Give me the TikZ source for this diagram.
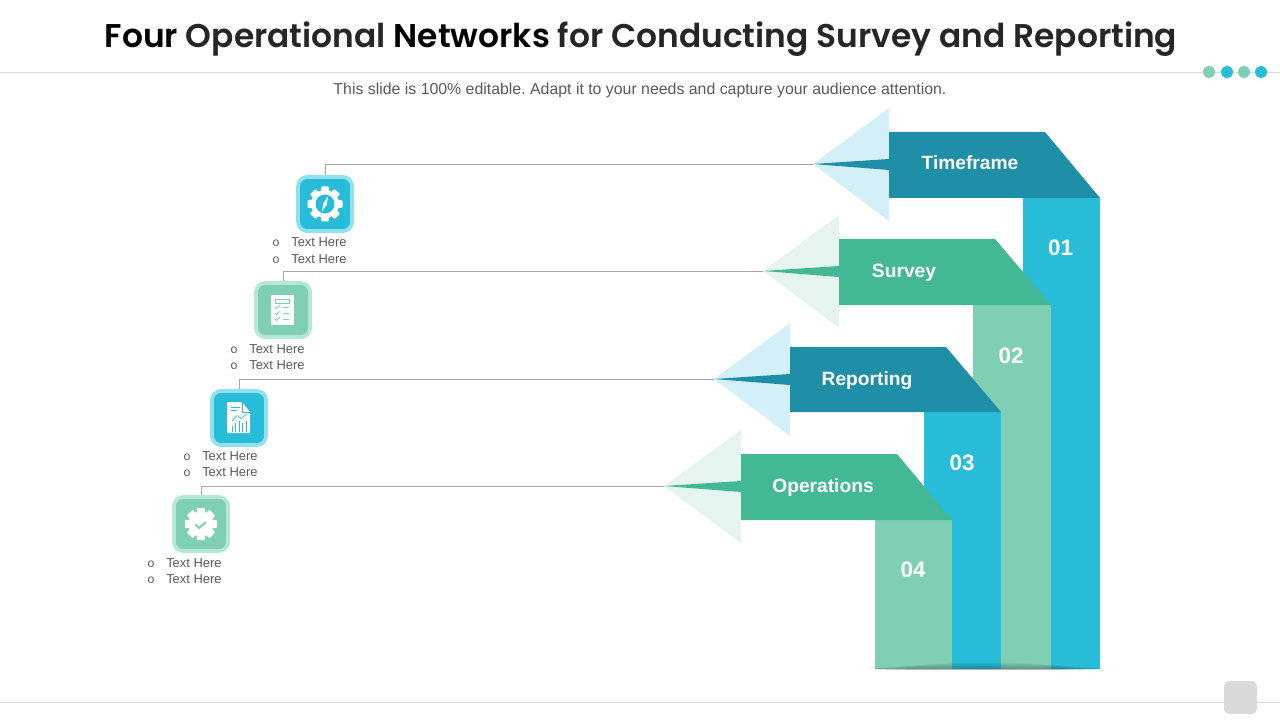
\documentclass[tikz,border=0pt]{standalone}
\usepackage{fontspec}
\setmainfont{Liberation Sans}
\setmonofont{Liberation Mono}
\newfontfamily\titlefont{Poppins SemiBold}
\definecolor{cblue}{HTML}{27BDD9}
\definecolor{cdark}{HTML}{1F8FA8}
\definecolor{cgreen}{HTML}{42B894}
\definecolor{cmint}{HTML}{7FCFB5}
\definecolor{ctriB}{HTML}{D3EFF7}
\definecolor{ctriG}{HTML}{E6F4F0}
\definecolor{ringB}{HTML}{92E0EE}
\definecolor{ringG}{HTML}{B5E6D6}
\definecolor{rulec}{HTML}{D9D9D9}
\definecolor{linec}{HTML}{A6A6A6}
\definecolor{txtc}{HTML}{595959}
\definecolor{titlec}{HTML}{262626}
\tikzset{
  iconbase/.style={rounded corners=7pt,minimum size=40.6pt,inner sep=0pt,line width=2.8pt,draw},
  iconB/.style={iconbase,fill=cblue,draw=ringB},
  iconG/.style={iconbase,fill=cmint,draw=ringG},
  conn/.style={draw=linec,line width=.6pt},
  lab/.style={text=white,font=\fontsize{14.4}{16}\selectfont\bfseries,inner sep=0pt,anchor=base},
  num/.style={text=white,font=\fontsize{16.8}{19}\selectfont\bfseries,inner sep=0pt,anchor=base},
  item/.style={text=txtc,font=\fontsize{9.7}{11}\selectfont,anchor=base west,inner sep=0pt},
  bull/.style={text=txtc,font=\ttfamily\fontsize{9.2}{11}\selectfont,anchor=base,inner sep=0pt},
}
\newcommand\gearicon[5]{% x y body-radius tooth-radius tooth-half-width
  \fill[white] (#1,#2) circle[radius=#3];
  \foreach \a in {0,45,...,135}{
    \fill[white,rounded corners=.8pt,rotate around={\a:(#1,#2)}]
      (#1-#5,#2-#4) rectangle (#1+#5,#2+#4);
  }
}
\begin{document}
\begin{tikzpicture}[x=.75pt,y=-.75pt]
\useasboundingbox (0,0) rectangle (1280,720);
\fill[white] (0,0) rectangle (1280,720);
% header
\node[font=\titlefont\fontsize{24.65}{30}\selectfont,text=titlec,inner sep=0pt,anchor=base] (title) at (641,48)
  {{\color{black}Four} Operational {\color{black}Networks} for Conducting Survey and Reporting};
\coordinate (hl) at (0,72); \coordinate (hr) at (1280,72);
\draw[rulec,line width=.6pt] (hl) -- (hr);
\foreach \x/\c in {1209/cmint,1227/cblue,1244/cmint,1261/cblue}
  \fill[\c] (\x,72) circle[radius=6];
\node[text=txtc,font=\fontsize{11.9}{14}\selectfont,inner sep=0pt,anchor=base] (sub) at (640,94.5)
  {\frenchspacing This slide is 100\% editable. Adapt it to your needs and capture your audience attention.};
% footer
\coordinate (fl) at (0,702); \coordinate (fr) at (1280,702);
\draw[rulec,line width=.6pt] (fl) -- (fr);
\fill[rulec,rounded corners=4pt] (1224,681) rectangle (1257,714);
% faint floor shadow
\begin{scope}
  \clip (840,660) rectangle (1130,670);
  \foreach \rx/\ry in {135/1.5,120/2,105/2.5}
    \fill[black,opacity=.025] (985,668) ellipse[x radius=\rx,y radius=\ry];
\end{scope}
% columns
\fill[cblue] (1023,198) rectangle (1100,669);
\fill[cmint] (973,305) rectangle (1051,669);
\fill[cblue] (924,412) rectangle (1001,669);
\fill[cmint] (875,520) rectangle (952,669);
\begin{scope}
  \clip (875,655) rectangle (1100,669);
  \foreach \rx/\ry in {130/1.5,120/2.5,110/3.5,100/4.5,90/5.5,80/6.5}
    \fill[black,opacity=.045] (985,669) ellipse[x radius=\rx,y radius=\ry];
\end{scope}
% arrow 1
\fill[ctriB] (813,164) -- (889,108) -- (889,221) -- cycle;
\fill[cdark] (813,164) -- (889,159) -- (889,170) -- cycle;
\fill[cdark] (889,132) -- (1045,132) -- (1100,198) -- (889,198) -- cycle;
% arrow 2
\fill[ctriG] (763,271) -- (839,215) -- (839,328) -- cycle;
\fill[cgreen] (763,271) -- (839,266) -- (839,277) -- cycle;
\fill[cgreen] (839,239) -- (995,239) -- (1051,305) -- (839,305) -- cycle;
% arrow 3
\fill[ctriB] (714,379) -- (790,323) -- (790,436) -- cycle;
\fill[cdark] (714,379) -- (790,374) -- (790,385) -- cycle;
\fill[cdark] (790,347) -- (946,347) -- (1001,412) -- (790,412) -- cycle;
% arrow 4
\fill[ctriG] (664,486) -- (741,430) -- (741,543) -- cycle;
\fill[cgreen] (664,486) -- (741,481) -- (741,492) -- cycle;
\fill[cgreen] (741,454) -- (897,454) -- (952,520) -- (741,520) -- cycle;
% tips
\coordinate (t1) at (813,164);
\coordinate (t2) at (763,271);
\coordinate (t3) at (714,379);
\coordinate (t4) at (664,486);
% labels
\node[lab] (l1) at (970,170) {Timeframe};
\node[lab] (l2) at (904,277) {Survey};
\node[lab] (l3) at (867,385) {Reporting};
\node[lab] (l4) at (823,492.5) {Operations};
\node[num] (n1) at (1060.5,255) {01};
\node[num] (n2) at (1011,363) {02};
\node[num] (n3) at (962,470) {03};
\node[num] (n4) at (913,577) {04};
% icons
\node[iconB] (i1) at (325,204) {};
\node[iconG] (i2) at (283,310) {};
\node[iconB] (i3) at (239,418) {};
\node[iconG] (i4) at (201,524) {};
% connectors
\draw[conn] (i1.north) |- (t1);
\draw[conn] (i2.north) |- (t2);
\draw[conn] (i3.north) |- (t3);
\draw[conn] (i4.north) |- (t4);
% gear + compass
\gearicon{325}{204}{14}{17.5}{4}
\fill[cblue] (325,204) circle[radius=9.5];
\fill[white] (328,196.5) -- (326.6,205) -- (322,211.5) -- (323.4,203) -- cycle;
% checklist document
\fill[white] (271,295) rectangle (294,325);
\draw[cmint,line width=.6pt] (275,299) rectangle (289,303);
\foreach \y in {307,313,319}{
  \draw[cmint,line width=.6pt] (275,\y) -- (276.5,\y+1.5) -- (279.5,\y-1.5);
  \draw[cmint,line width=.7pt] (283,\y) -- (289,\y);
}
% chart document
\fill[white] (227,402) -- (242,402) -- (250,412) -- (250,433) -- (227,433) -- cycle;
\draw[cblue,line width=.4pt] (242,402) -- (242,412) -- (250,412);
\draw[cblue,line width=.5pt] (231,407) -- (240,407) (231,410.5) -- (237,410.5);
\draw[cblue,line width=.5pt] (232,421) -- (237,415.5) -- (241,418.5) -- (247,414);
\foreach \x/\t in {232.5/426,235.5/423,239/421,242.5/423,246/421}
  \draw[cblue,line width=.6pt] (\x,\t) -- (\x,431.5);
% check gear
\gearicon{201}{524}{12.5}{16}{4.2}
\draw[cmint,line width=1.5pt] (195.5,524.5) -- (199,528) -- (206,522);
% lists
\foreach \x/\ya/\yb/\k in {291/242/258/a,249/348/364/b,202/455/471/c,166/562/578/d}{
  \node[item] (t\k1) at (\x,\ya+5) {Text Here};
  \node[item] (t\k2) at (\x,\yb+5) {Text Here};
  \node[bull] (o\k1) at (\x-15,\ya+5) {o};
  \node[bull] (o\k2) at (\x-15,\yb+5) {o};
}
\end{tikzpicture}
\end{document}
